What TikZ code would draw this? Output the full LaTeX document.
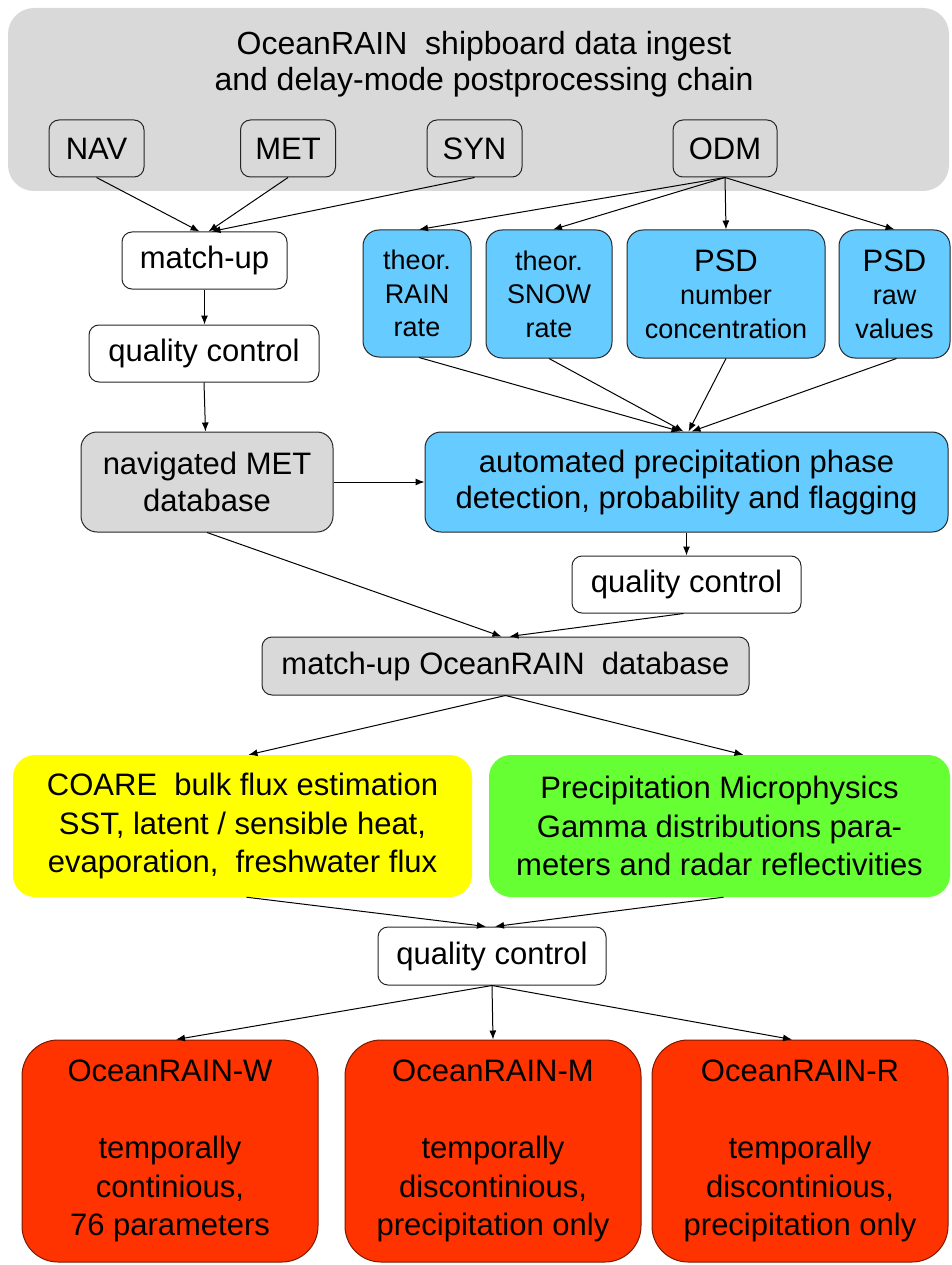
\documentclass[tikz,border=0pt]{standalone}
\usepackage{fontspec}
\setmainfont{Liberation Sans}
\usetikzlibrary{arrows.meta,calc}
\definecolor{bggray}{HTML}{D9D9D9}
\definecolor{boxblue}{HTML}{66CCFF}
\definecolor{boxyellow}{HTML}{FFFF00}
\definecolor{boxgreen}{HTML}{66FF33}
\definecolor{boxred}{HTML}{FF3300}
\definecolor{edgecol}{HTML}{262626}
\definecolor{rededge}{HTML}{7A1A00}
\begin{document}
\begin{tikzpicture}[x=1pt,y=-1pt,
  every node/.style={align=center, inner sep=0pt, font=\fontsize{31}{37}\selectfont},
  sz/.style 2 args={minimum width=#1pt, minimum height=#2pt},
  plainbox/.style={draw=edgecol, line width=1pt, fill=white, rounded corners=10pt},
  graybox/.style={draw=edgecol, line width=1pt, fill=bggray, rounded corners=10pt},
  dbbox/.style={draw=edgecol, line width=1pt, fill=bggray, rounded corners=16pt},
  bluebox/.style={draw=edgecol, line width=1pt, fill=boxblue, rounded corners=16pt,
    font=\fontsize{27}{33.5}\selectfont},
  yellowbox/.style={fill=boxyellow, rounded corners=22pt, font=\fontsize{31}{38.5}\selectfont},
  greenbox/.style={fill=boxgreen, rounded corners=22pt, font=\fontsize{31}{38.5}\selectfont},
  redbox/.style={draw=rededge, line width=1pt, fill=boxred, rounded corners=36pt, font=\fontsize{31}{38.5}\selectfont},
  arr/.style={draw=black, line width=1pt, -{Latex[length=9pt,width=7pt]}}
]
\useasboundingbox (0,0) rectangle (952,1265);

% container
\node[fill=bggray, rounded corners=26pt, sz={941}{183}] (chain) at (478.5,99.5) {};
\node[font=\fontsize{32}{35.5}\selectfont] (title) at (484,64) {OceanRAIN\ \ shipboard data ingest\\and delay-mode postprocessing chain};

\node[graybox, sz={95}{57}] (nav) at (96.5,148.5) {NAV};
\node[graybox, sz={95}{57}] (met) at (288,148.5) {MET};
\node[graybox, sz={95}{57}] (syn) at (474.5,148.5) {SYN};
\node[graybox, sz={104}{57}] (odm) at (725,148.5) {ODM};

\node[plainbox, sz={165}{57}] (matchup) at (204.5,260.5) {match-up};
\node[plainbox, sz={230}{57}] (qcl) at (204,353.5) {quality control};
\node[dbbox, sz={252}{100}] (navmet) at (207,482) {navigated MET\\database};

\node[bluebox, sz={108}{127}] (rain) at (417,293.5) {theor.\\RAIN\\rate};
\node[bluebox, sz={126}{128}] (snow) at (549,294) {theor.\\SNOW\\rate};
\node[bluebox, sz={198}{128}] (psdn) at (726,294) {{\fontsize{31}{33.5}\selectfont PSD}\\number\\concentration};
\node[bluebox, sz={111}{128}] (psdr) at (894.5,294) {{\fontsize{31}{33.5}\selectfont PSD}\\raw\\values};

\node[bluebox, sz={523}{100}, font=\fontsize{31}{36}\selectfont] (auto) at (686.5,482) {automated precipitation phase\\detection, probability and flagging};
\node[plainbox, sz={229}{57}] (qcr) at (686.5,584.5) {quality control};
\node[dbbox, rounded corners=10pt, sz={487}{58}] (mor) at (505.5,666) {match-up OceanRAIN\ \ database};

\node[yellowbox, sz={459}{142}] (coare) at (242.5,826) {COARE\ \ bulk flux estimation\\SST, latent / sensible heat,\\evaporation,\ \ freshwater flux};
\node[greenbox, sz={461}{142}] (micro) at (719.5,826) {Precipitation Microphysics\\Gamma distributions para-\\meters and radar reflectivities};

\node[plainbox, sz={228}{58}] (qcb) at (492,956) {quality control};

\node[redbox, sz={296}{222}] (oW) at (170,1151) {OceanRAIN-W\\[0pt]\mbox{}\\temporally\\continious,\\76 parameters};
\node[redbox, sz={296}{222}] (oM) at (493,1151) {OceanRAIN-M\\[0pt]\mbox{}\\temporally\\discontinious,\\precipitation only};
\node[redbox, sz={296}{222}] (oR) at (800,1151) {OceanRAIN-R\\[0pt]\mbox{}\\temporally\\discontinious,\\precipitation only};

% connectors
\draw[arr] (nav.south) -- ($(matchup.north)+(-5,0)$);
\draw[arr] (met.south) -- ($(matchup.north)+(4,0)$);
\draw[arr] (syn.south) -- ($(matchup.north)+(7,0)$);

\draw[arr] (odm.south) -- ($(rain.north)+(2,0)$);
\draw[arr] (odm.south) -- ($(snow.north)+(4,0)$);
\draw[arr] (odm.south) -- (psdn.north);
\draw[arr] (odm.south) -- (psdr.north);

\draw[arr] (matchup.south) -- (matchup.south |- qcl.north);
\draw[arr] (qcl.south) -- ($(navmet.north)+(-1.5,0)$);

\draw[arr] ($(rain.south)+(2,0)$) -- ($(auto.north)+(-6,0)$);
\draw[arr] (snow.south) -- ($(auto.north)+(-3,0)$);
\draw[arr] (psdn.south) -- ($(auto.north)+(2,0)$);
\draw[arr] ($(psdr.south)+(2,0)$) -- ($(auto.north)+(5,0)$);

\draw[arr] (navmet.east) -- (auto.west);
\draw[arr] (auto.south) -- (qcr.north);

\draw[arr] (navmet.south) -- ($(mor.north)+(-4,0)$);
\draw[arr] ($(qcr.south)+(-3,0)$) -- ($(mor.north)+(4,0)$);

\draw[arr] (mor.south) -- ($(coare.north)+(6,0)$);
\draw[arr] (mor.south) -- ($(micro.north)+(24,0)$);

\draw[arr] ($(coare.south)+(4,0)$) -- ($(qcb.north)+(-6,0)$);
\draw[arr] ($(micro.south)+(4,0)$) -- ($(qcb.north)+(3,0)$);

\draw[arr] (qcb.south) -- ($(oW.north)+(6,0)$);
\draw[arr] (qcb.south) -- (oM.north);
\draw[arr] (qcb.south) -- ($(oR.north)+(-8,0)$);
\end{tikzpicture}
\end{document}
